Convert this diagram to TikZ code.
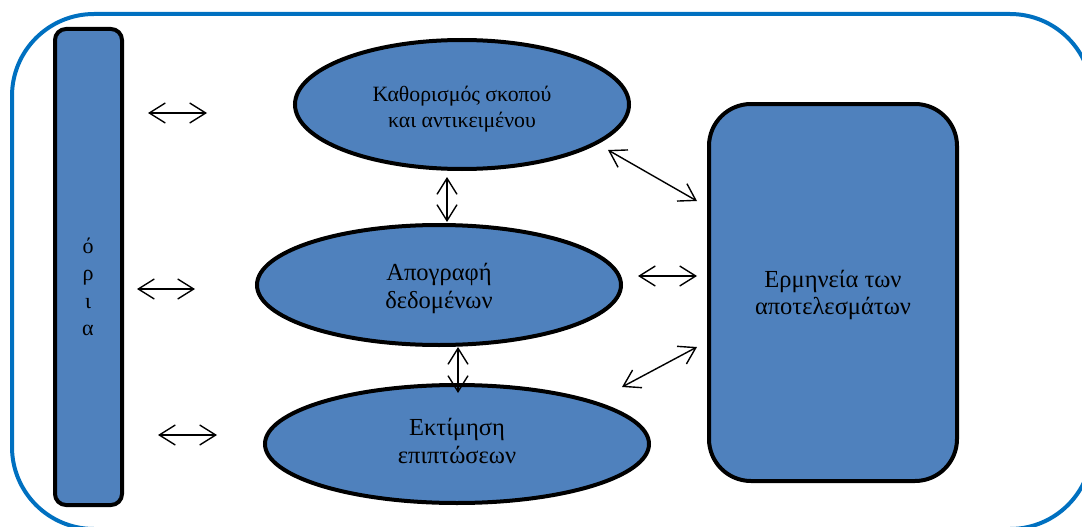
\documentclass[tikz,border=0pt]{standalone}
\usepackage{fontspec}
\setmainfont{Liberation Serif}
\usetikzlibrary{shapes.geometric,arrows.meta}
\definecolor{boxblue}{HTML}{4F81BD}
\definecolor{frameblue}{HTML}{0070C0}
\tikzset{
  stage/.style={ellipse, draw=black, line width=4pt, fill=boxblue, inner sep=0pt, align=center, text=black},
  panel/.style={rectangle, draw=black, line width=4pt, fill=boxblue, inner sep=0pt, align=center, text=black},
  link/.style={line width=1.4pt, {Straight Barb[length=16pt,width=20pt]}-{Straight Barb[length=16pt,width=20pt]}},
  bigtxt/.style={font=\fontsize{24.5}{27.5}\selectfont},
  smalltxt/.style={font=\fontsize{21.8}{25.5}\selectfont}
}
% two centred lines, lowered by #1 while keeping their natural size
\newcommand{\twolines}[3]{\raisebox{#1}[\height][\depth]{\begin{tabular}{@{}c@{}}#2\\#3\end{tabular}}}
\begin{document}
\begin{tikzpicture}[x=1pt,y=-1pt]
  \useasboundingbox (0,0) rectangle (1082,527);
  \clip (0,0) rectangle (1082,527);

  % outer frame, partly running off the page
  \draw[frameblue, line width=4pt, rounded corners=82pt] (12,14) rectangle (1092,529);

  % boundary bar on the left
  \node[panel, rounded corners=11pt, minimum width=67pt, minimum height=476pt] (oria) at (88.5,267) {};
  \node[align=center, inner sep=0pt, font=\fontsize{22}{27.5}\selectfont] (oriatext) at (88,287) {ό\\ρ\\ι\\α};

  % process stages
  \node[stage, minimum width=334pt, minimum height=129pt, smalltxt] (scope) at (462,104.5)
    {\twolines{-5pt}{Καθορισμός σκοπού}{και αντικειμένου}};
  \node[stage, minimum width=364pt, minimum height=120pt, bigtxt] (data) at (439,285)
    {\twolines{-4pt}{Απογραφή}{δεδομένων}};
  \node[stage, minimum width=384pt, minimum height=118pt, bigtxt] (impact) at (457,444)
    {\twolines{0pt}{Εκτίμηση}{επιπτώσεων}};

  % interpretation panel
  \node[panel, rounded corners=42pt, minimum width=248pt, minimum height=377pt, bigtxt] (interp) at (833,292.5)
    {\twolines{-3pt}{Ερμηνεία των}{αποτελεσμάτων}};

  % arrow end points
  \coordinate (l1a) at (148,113);  \coordinate (l1b) at (207,113);
  \coordinate (l2a) at (137,289);  \coordinate (l2b) at (195,289);
  \coordinate (l3a) at (158,435);  \coordinate (l3b) at (217,435);
  \coordinate (v1a) at (447,177);  \coordinate (v1b) at (447,222);
  \coordinate (v2a) at (458,347);  \coordinate (v2b) at (458,393);
  \coordinate (r1a) at (608,150);  \coordinate (r1b) at (697,201);
  \coordinate (r2a) at (638,276);  \coordinate (r2b) at (697,276);
  \coordinate (r3a) at (622,387);  \coordinate (r3b) at (697,347);

  \draw[link] (l1a) -- (l1b);
  \draw[link] (l2a) -- (l2b);
  \draw[link] (l3a) -- (l3b);
  \draw[link] (v1a) -- (v1b);
  \draw[link] (v2a) -- (v2b);
  \draw[link] (r1a) -- (r1b);
  \draw[link] (r2a) -- (r2b);
  \draw[link] (r3a) -- (r3b);
\end{tikzpicture}
\end{document}
